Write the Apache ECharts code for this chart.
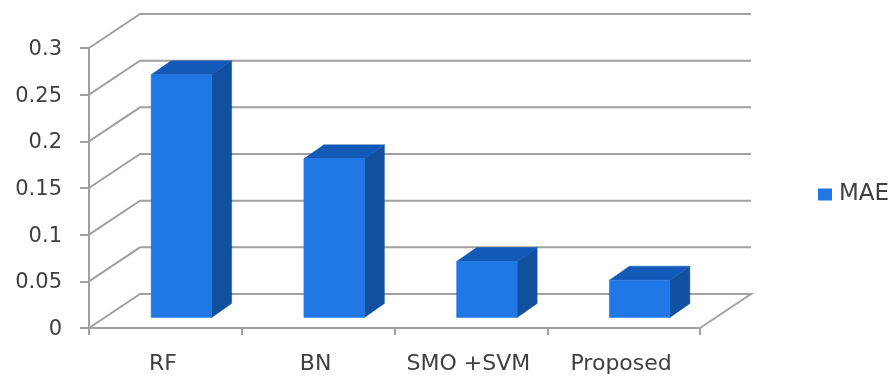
<!DOCTYPE html>
<html>
<head>
<meta charset="utf-8">
<style>html,body{margin:0;padding:0;background:#fff}#chart{width:892px;height:376px}</style>
<script src="https://cdn.jsdelivr.net/npm/echarts@6/dist/echarts.min.js"></script>
</head>
<body>
<div id="chart"></div>
<script>
// MAE per classifier
const categories = ['RF', 'BN', 'SMO +SVM', 'Proposed'];
const maeValues = [0.26, 0.17, 0.06, 0.04];
const gridTicks = [0, 0.05, 0.1, 0.15, 0.2, 0.25, 0.3];

// Oblique projection of the chart box
const WALL_DX = 51, WALL_DY = -34;     // front plane to back wall
const BAR_DX = 16, BAR_DY = -10.5;     // front plane to bar front face
const DEPTH_DX = 20, DEPTH_DY = -14;   // bar front face to bar back face
const BAR_RATIO = 0.396;

const LINE = '#a0a0a0', TEXT = '#404040', FONT = '"DejaVu Sans", sans-serif';
const LINE_WIDTH = 2;

function renderGridLine(params, api) {
  const box = params.coordSys;
  const value = api.value(0);
  const y = api.coord([0, value])[1];
  const x0 = box.x, x1 = box.x + box.width;
  const pts = [[x0, y], [x0 + WALL_DX, y + WALL_DY], [x1 + WALL_DX, y + WALL_DY]];
  if (value === 0) pts.push([x1, y]);
  return {
    type: 'polyline',
    shape: { points: pts },
    style: { fill: null, stroke: LINE, lineWidth: LINE_WIDTH }
  };
}

function renderBar(params, api) {
  const base = api.coord([api.value(0), 0]);
  const top = api.coord([api.value(0), api.value(1)]);
  const w = api.size([1, 0])[0] * BAR_RATIO;
  const l = base[0] - w / 2 + BAR_DX, r = l + w;
  const b = base[1] + BAR_DY, t = top[1] + BAR_DY;
  const poly = (points, fill) => ({
    type: 'polygon', shape: { points }, style: { fill, stroke: fill, lineWidth: 0.5 }
  });
  return {
    type: 'group',
    children: [
      poly([[r, b], [r + DEPTH_DX, b + DEPTH_DY], [r + DEPTH_DX, t + DEPTH_DY], [r, t]], '#11509f'),
      poly([[l, t], [r, t], [r + DEPTH_DX, t + DEPTH_DY], [l + DEPTH_DX, t + DEPTH_DY]], '#1259b8'),
      poly([[l, t], [r, t], [r, b], [l, b]], '#2077e6')
    ]
  };
}

const chart = echarts.init(document.getElementById('chart'), null, { renderer: 'canvas' });
chart.setOption({
  animation: false,
  backgroundColor: '#fff',
  grid: { left: 89, right: 192, top: 48, bottom: 48 },
  legend: {
    data: ['MAE'], left: 818, top: 183, icon: 'rect', padding: 0,
    itemWidth: 14, itemHeight: 12, itemGap: 7,
    textStyle: { color: TEXT, fontFamily: FONT, fontSize: 23, padding: [0, 0, 0, 2] }
  },
  xAxis: {
    type: 'category', data: categories,
    axisLine: { lineStyle: { color: LINE, width: LINE_WIDTH } },
    axisTick: { show: true, interval: 0, length: 7, lineStyle: { color: LINE, width: LINE_WIDTH } },
    axisLabel: {
      color: TEXT, fontFamily: FONT, fontSize: 22, margin: 25, interval: 0,
      padding: [0, 5, 0, 0]
    }
  },
  yAxis: {
    type: 'value', min: 0, max: 0.3, interval: 0.05,
    axisLine: { show: true, lineStyle: { color: LINE, width: LINE_WIDTH } },
    axisTick: { show: true, length: 9, lineStyle: { color: LINE, width: LINE_WIDTH } },
    axisLabel: {
      color: TEXT, fontFamily: FONT, fontSize: 21, margin: 27,
      verticalAlign: 'top', padding: [-9, 0, 0, 0]
    },
    splitLine: { show: false }
  },
  series: [
    {
      name: 'walls', type: 'custom', renderItem: renderGridLine, clip: false, silent: true, z: 1,
      data: gridTicks.map(v => [v]), encode: { y: 0 }
    },
    {
      name: 'MAE', type: 'custom', renderItem: renderBar, clip: false, z: 3,
      itemStyle: { color: '#2077e6' },
      data: maeValues.map((v, i) => [i, v]), encode: { x: 0, y: 1 }
    }
  ]
});
</script>
</body>
</html>
